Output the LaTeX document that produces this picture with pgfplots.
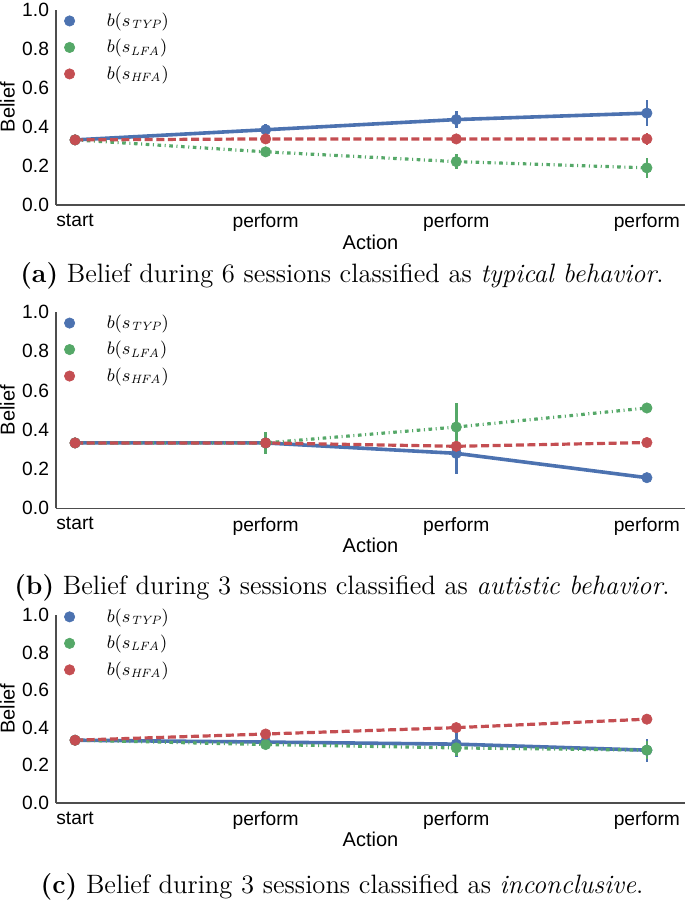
\documentclass[border=0pt]{standalone}
\usepackage{fontspec}
\usepackage{pgfplots}
\pgfplotsset{compat=1.18}
\newfontfamily\arialfont{Liberation Sans}
\definecolor{sbblue}{HTML}{4C72B0}
\definecolor{sbgreen}{HTML}{55A868}
\definecolor{sbred}{HTML}{C44E52}
\definecolor{spine}{HTML}{4D4D4D}
\pgfplotsset{
  beliefaxis/.style={
    scale only axis, width=314.5pt,
    xmin=-0.1, xmax=3.2, ymin=0, ymax=1,
    axis x line*=bottom, axis y line*=left,
    axis line style={-, draw=spine, line width=0.8pt},
    xtick={0,1,2,3}, xticklabels={start,perform,perform,perform},
    ytick={0,0.2,0.4,0.6,0.8,1.0},
    major tick length=0pt,
    tick label style={font=\arialfont\fontsize{9.6}{11}\selectfont, text=black},
    xticklabel style={yshift=-1pt},
    /pgf/number format/assume math mode=true,
    yticklabel style={/pgf/number format/.cd, fixed, fixed zerofill, precision=1},
    xlabel={Action}, ylabel={Belief},
    label style={font=\arialfont\fontsize{10}{12}\selectfont},
    xlabel style={at={(axis description cs:0.5,0)}, anchor=center, yshift=-18.5pt},
    ylabel style={at={([xshift=-24.25pt]axis description cs:0,0.5)}, anchor=center},
    legend style={draw=none, fill=none, font=\fontsize{8.6}{10}\selectfont,
      row sep=5pt, column sep=16pt, at={(axis description cs:0,1)},
      anchor=north west, xshift=4.2pt, inner sep=0pt, outer sep=0pt, nodes={inner sep=0pt}},
    legend cell align=left,
    legend image code/.code={\draw[#1, only marks] plot coordinates {(0pt,0pt)};},
    error bars/y dir=both, error bars/y explicit, error bars/error mark=none,
    clip=false,
  },
  typ/.style={color=sbblue, line width=1.8pt, solid, mark=*, mark size=2.6pt,
    mark options={solid, fill=sbblue, draw=sbblue, line width=0.3pt},
    error bars/error bar style={color=sbblue, line width=1.3pt, solid}},
  lfa/.style={color=sbgreen, line width=1.6pt, dash pattern=on 1.8pt off 1.8pt on 0.5pt off 1.8pt, mark=*, mark size=2.6pt,
    mark options={solid, fill=sbgreen, draw=sbgreen, line width=0.3pt},
    error bars/error bar style={color=sbgreen, line width=1.3pt, solid}},
  hfa/.style={color=sbred, line width=1.6pt, dash pattern=on 4pt off 1.8pt, mark=*, mark size=2.6pt,
    mark options={solid, fill=sbred, draw=sbred, line width=0.3pt},
    error bars/error bar style={color=sbred, line width=1.3pt, solid}},
}
\begin{document}
\begin{tikzpicture}
\useasboundingbox (0,0) rectangle (342.5pt,-450pt);
% ---------------- (a)
\begin{axis}[beliefaxis, height=97.75pt, at={(28pt,-102.5pt)}, anchor=south west, legend style={yshift=-1.6pt}]
\addplot[typ] table[x index=0, y index=1, y error index=2] {
0 0.333 0
1 0.385 0.03
2 0.437 0.045
3 0.470 0.065
};
\addlegendentry{$b(s_{\mathit{TYP}})$}
\addplot[lfa] table[x index=0, y index=1, y error index=2] {
0 0.333 0
1 0.272 0.025
2 0.222 0.038
3 0.190 0.05
};
\addlegendentry{$b(s_{\mathit{LFA}})$}
\addplot[hfa] table[x index=0, y index=1, y error index=2] {
0 0.333 0
1 0.338 0.01
2 0.338 0.012
3 0.338 0.03
};
\addlegendentry{$b(s_{\mathit{HFA}})$}
\end{axis}
% ---------------- (b)
\begin{axis}[beliefaxis, height=98.15pt, at={(28pt,-254.15pt)}, anchor=south west, legend style={yshift=-1.4pt}]
\addplot[typ] table[x index=0, y index=1, y error index=2] {
0 0.333 0
1 0.333 0.005
2 0.280 0.105
3 0.156 0.01
};
\addlegendentry{$b(s_{\mathit{TYP}})$}
\addplot[lfa] table[x index=0, y index=1, y error index=2] {
0 0.333 0
1 0.333 0.058
2 0.414 0.12
3 0.511 0.01
};
\addlegendentry{$b(s_{\mathit{LFA}})$}
\addplot[hfa] table[x index=0, y index=1, y error index=2] {
0 0.333 0
1 0.333 0.01
2 0.316 0.01
3 0.335 0.005
};
\addlegendentry{$b(s_{\mathit{HFA}})$}
\end{axis}
% ---------------- (c)
\begin{axis}[beliefaxis, height=93.85pt, at={(28pt,-401.35pt)}, anchor=south west, legend style={yshift=3.2pt}]
\addplot[typ] table[x index=0, y index=1, y error index=2] {
0 0.333 0
1 0.323 0.01
2 0.312 0.066
3 0.280 0.062
};
\addlegendentry{$b(s_{\mathit{TYP}})$}
\addplot[lfa] table[x index=0, y index=1, y error index=2] {
0 0.333 0
1 0.310 0.015
2 0.292 0.045
3 0.280 0.048
};
\addlegendentry{$b(s_{\mathit{LFA}})$}
\addplot[hfa] table[x index=0, y index=1, y error index=2] {
0 0.333 0
1 0.366 0.01
2 0.400 0.01
3 0.445 0.01
};
\addlegendentry{$b(s_{\mathit{HFA}})$}
\end{axis}
% captions
\node[anchor=base, font=\fontsize{13.3}{16}\selectfont] at (171pt,-141pt) {\textbf{(a)} Belief during 6 sessions classified as \textit{typical behavior}.};
\node[anchor=base, font=\fontsize{13.3}{16}\selectfont] at (171pt,-297pt) {\textbf{(b)} Belief during 3 sessions classified as \textit{autistic behavior}.};
\node[anchor=base, font=\fontsize{13.3}{16}\selectfont] at (171pt,-446.8pt) {\textbf{(c)} Belief during 3 sessions classified as \textit{inconclusive}.};
\end{tikzpicture}
\end{document}
